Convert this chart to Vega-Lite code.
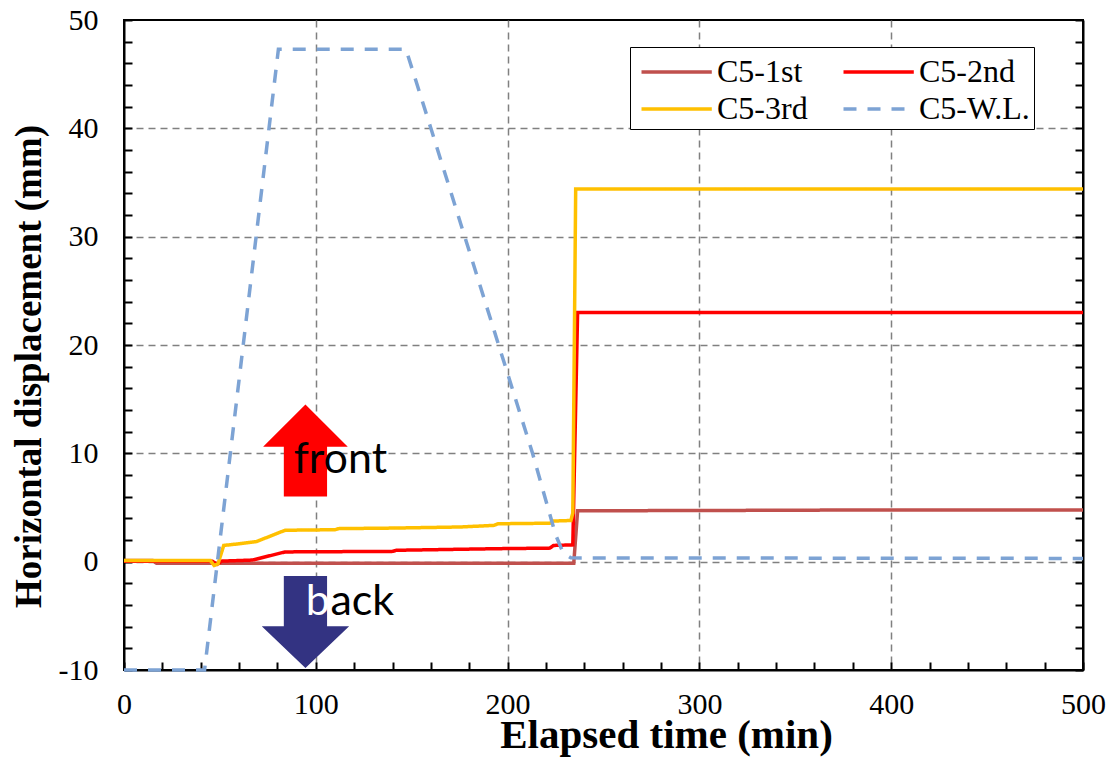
{
  "$schema": "https://vega.github.io/schema/vega-lite/v6.json",
  "width": 959,
  "height": 650,
  "autosize": {"type": "none"},
  "padding": {"left": 124, "top": 20, "right": 25, "bottom": 90},
  "background": "white",
  "config": {
    "view": {"stroke": "black", "strokeWidth": 2},
    "font": "Liberation Serif"
  },
  "datasets": {
    "lines": [
      {"t": 0, "v": 0.1, "series": "C5-1st"},
      {"t": 15, "v": 0.1, "series": "C5-1st"},
      {"t": 17, "v": -0.15, "series": "C5-1st"},
      {"t": 234.5, "v": -0.15, "series": "C5-1st"},
      {"t": 236.5, "v": 4.7, "series": "C5-1st"},
      {"t": 300, "v": 4.72, "series": "C5-1st"},
      {"t": 400, "v": 4.78, "series": "C5-1st"},
      {"t": 500, "v": 4.78, "series": "C5-1st"},

      {"t": 0, "v": 0.05, "series": "C5-2nd"},
      {"t": 46, "v": 0.05, "series": "C5-2nd"},
      {"t": 48.5, "v": -0.25, "series": "C5-2nd"},
      {"t": 51, "v": 0.05, "series": "C5-2nd"},
      {"t": 67, "v": 0.15, "series": "C5-2nd"},
      {"t": 84, "v": 0.9, "series": "C5-2nd"},
      {"t": 140, "v": 0.95, "series": "C5-2nd"},
      {"t": 142, "v": 1.05, "series": "C5-2nd"},
      {"t": 195, "v": 1.2, "series": "C5-2nd"},
      {"t": 222, "v": 1.25, "series": "C5-2nd"},
      {"t": 224, "v": 1.5, "series": "C5-2nd"},
      {"t": 234, "v": 1.55, "series": "C5-2nd"},
      {"t": 236.5, "v": 23.0, "series": "C5-2nd"},
      {"t": 500, "v": 23.0, "series": "C5-2nd"},

      {"t": 0, "v": 0.1, "series": "C5-3rd"},
      {"t": 45, "v": 0.1, "series": "C5-3rd"},
      {"t": 47, "v": -0.35, "series": "C5-3rd"},
      {"t": 49, "v": -0.2, "series": "C5-3rd"},
      {"t": 52, "v": 1.5, "series": "C5-3rd"},
      {"t": 60, "v": 1.65, "series": "C5-3rd"},
      {"t": 69, "v": 1.85, "series": "C5-3rd"},
      {"t": 84, "v": 2.9, "series": "C5-3rd"},
      {"t": 110, "v": 2.95, "series": "C5-3rd"},
      {"t": 112, "v": 3.05, "series": "C5-3rd"},
      {"t": 140, "v": 3.1, "series": "C5-3rd"},
      {"t": 175, "v": 3.2, "series": "C5-3rd"},
      {"t": 193, "v": 3.35, "series": "C5-3rd"},
      {"t": 195, "v": 3.5, "series": "C5-3rd"},
      {"t": 222, "v": 3.55, "series": "C5-3rd"},
      {"t": 224, "v": 3.75, "series": "C5-3rd"},
      {"t": 233, "v": 3.8, "series": "C5-3rd"},
      {"t": 234, "v": 4.5, "series": "C5-3rd"},
      {"t": 235.5, "v": 34.4, "series": "C5-3rd"},
      {"t": 500, "v": 34.4, "series": "C5-3rd"},

      {"t": 0, "v": -10, "series": "C5-W.L."},
      {"t": 42, "v": -10, "series": "C5-W.L."},
      {"t": 80.5, "v": 47.3, "series": "C5-W.L."},
      {"t": 147, "v": 47.3, "series": "C5-W.L."},
      {"t": 160, "v": 40, "series": "C5-W.L."},
      {"t": 213, "v": 10, "series": "C5-W.L."},
      {"t": 225, "v": 2.5, "series": "C5-W.L."},
      {"t": 229, "v": 0.8, "series": "C5-W.L."},
      {"t": 233, "v": 0.35, "series": "C5-W.L."},
      {"t": 500, "v": 0.3, "series": "C5-W.L."}
    ],
    "upArrow": [{"t": 94.6, "v": 10.26}],
    "downArrow": [{"t": 94.6, "v": -5.57}],
    "frontText": [{"t": 88.5, "v": 8.19, "label": "front"}],
    "ackText": [{"t": 107.6, "v": -4.92, "label": "ack"}],
    "bText": [{"t": 94.8, "v": -4.92, "label": "b"}]
  },
  "resolve": {"axis": {"y": "independent"}},
  "encoding": {
    "x": {
      "field": "t", "type": "quantitative", "title": "Elapsed time (min)",
      "scale": {"domain": [0, 500], "nice": false, "zero": false},
      "axis": {
        "orient": "bottom",
        "values": [0,20,40,60,80,100,120,140,160,180,200,220,240,260,280,300,320,340,360,380,400,420,440,460,480,500],
        "labelExpr": "datum.value % 100 == 0 ? '' + datum.value : ''",
        "labelOverlap": false, "labelFlush": false, "labelBound": false,
        "labelFont": "Liberation Serif", "labelFontSize": 30, "labelColor": "black",
        "labelPadding": 27,
        "grid": true, "gridColor": "#808080", "gridDash": [7, 5], "gridWidth": 1.5,
        "gridOpacity": {"condition": {"test": "datum.value % 100 == 0 && datum.value > 0 && datum.value < 500", "value": 1}, "value": 0},
        "tickSize": -8, "tickColor": "black", "tickWidth": 2,
        "domainColor": "black", "domainWidth": 2,
        "titleFont": "Liberation Serif", "titleFontSize": 41, "titleFontWeight": "bold", "titleColor": "black",
        "titleX": 542, "titleY": 77, "titleBaseline": "alphabetic", "titleAlign": "center", "titleAnchor": "start"
      }
    }
  },
  "layer": [
    {
      "data": {"name": "lines"},
      "mark": {"type": "line", "strokeWidth": 3.5, "strokeCap": "butt"},
      "encoding": {
        "y": {
          "field": "v", "type": "quantitative", "title": "Horizontal displacement (mm)",
          "scale": {"domain": [-10, 50], "nice": false, "zero": false},
          "axis": {
            "orient": "left",
            "values": [-10,-8,-6,-4,-2,0,2,4,6,8,10,12,14,16,18,20,22,24,26,28,30,32,34,36,38,40,42,44,46,48,50],
            "labelExpr": "datum.value % 10 == 0 ? '' + datum.value : ''",
            "labelOverlap": false, "labelFlush": false, "labelBound": false,
            "labelFont": "Liberation Serif", "labelFontSize": 30, "labelColor": "black",
            "labelPadding": 34,
            "grid": true, "gridColor": "#808080", "gridDash": [7, 5], "gridWidth": 1.5,
            "gridOpacity": {"condition": {"test": "datum.value % 10 == 0 && datum.value > -10 && datum.value < 50", "value": 1}, "value": 0},
            "tickSize": -8, "tickColor": "black", "tickWidth": 2,
            "domainColor": "black", "domainWidth": 2,
            "titleFont": "Liberation Serif", "titleFontSize": 37, "titleFontWeight": "bold", "titleColor": "black",
            "titleX": -84, "titleY": 346, "titleBaseline": "alphabetic", "titleAlign": "center", "titleAngle": -90, "titleAnchor": "start"
          }
        },
        "color": {
          "field": "series", "type": "nominal",
          "scale": {"domain": ["C5-1st", "C5-3rd", "C5-2nd", "C5-W.L."], "range": ["#C0504D", "#FFC000", "#FF0000", "#7DA3D4"]},
          "legend": {
            "orient": "none", "legendX": 506, "legendY": 27,
            "columns": 2, "gridAlign": "each", "title": null,
            "strokeColor": "black", "fillColor": "white", "padding": 4,
            "symbolType": "M-0.5,0H3.2", "symbolSize": 1444, "symbolStrokeWidth": 3.5, "symbolOffset": -4,
            "labelFont": "Liberation Serif", "labelFontSize": 32, "labelColor": "black",
            "labelOffset": 45, "columnPadding": 28, "rowPadding": 0, "labelLimit": 300
          }
        },
        "strokeDash": {
          "field": "series", "type": "nominal",
          "scale": {"domain": ["C5-1st", "C5-3rd", "C5-2nd", "C5-W.L."], "range": [[1, 0], [1, 0], [1, 0], [13, 11]]},
          "legend": {
            "orient": "none", "legendX": 506, "legendY": 27,
            "columns": 2, "gridAlign": "each", "title": null,
            "strokeColor": "black", "fillColor": "white", "padding": 4,
            "symbolType": "M-0.5,0H3.2", "symbolSize": 1444, "symbolStrokeWidth": 3.5, "symbolOffset": -4,
            "labelFont": "Liberation Serif", "labelFontSize": 32, "labelColor": "black",
            "labelOffset": 45, "columnPadding": 28, "rowPadding": 0, "labelLimit": 300
          }
        }
      }
    },
    {
      "data": {"name": "upArrow"},
      "mark": {"type": "point", "filled": true, "opacity": 1, "strokeWidth": 0, "color": "#FF0000", "size": 8464,
               "shape": "M0,-1L0.92,-0.08L0.47,-0.08L0.47,1L-0.47,1L-0.47,-0.08L-0.92,-0.08Z"},
      "encoding": {
        "y": {
          "field": "v", "type": "quantitative", "title": null,
          "scale": {"domain": [-10, 50], "nice": false, "zero": false},
          "axis": {
            "orient": "right",
            "values": [-10,-8,-6,-4,-2,0,2,4,6,8,10,12,14,16,18,20,22,24,26,28,30,32,34,36,38,40,42,44,46,48,50],
            "labels": false, "grid": false, "title": null,
            "tickSize": -8, "tickColor": "black", "tickWidth": 2,
            "domainColor": "black", "domainWidth": 2
          }
        }
      }
    },
    {
      "data": {"name": "downArrow"},
      "mark": {"type": "point", "filled": true, "opacity": 1, "strokeWidth": 0, "color": "#333382", "size": 8464,
               "shape": "M0,1L0.95,0.09L0.47,0.09L0.47,-1L-0.47,-1L-0.47,0.09L-0.95,0.09Z"},
      "encoding": {
        "y": {"field": "v", "type": "quantitative", "title": null, "scale": {"domain": [-10, 50], "nice": false, "zero": false}, "axis": null}
      }
    },
    {
      "data": {"name": "frontText"},
      "mark": {"type": "text", "align": "left", "baseline": "alphabetic", "font": "Lato", "fontSize": 43, "color": "black"},
      "encoding": {
        "y": {"field": "v", "type": "quantitative", "title": null, "scale": {"domain": [-10, 50], "nice": false, "zero": false}, "axis": null},
        "text": {"field": "label"}
      }
    },
    {
      "data": {"name": "ackText"},
      "mark": {"type": "text", "align": "left", "baseline": "alphabetic", "font": "Lato", "fontSize": 43, "color": "black"},
      "encoding": {
        "y": {"field": "v", "type": "quantitative", "title": null, "scale": {"domain": [-10, 50], "nice": false, "zero": false}, "axis": null},
        "text": {"field": "label"}
      }
    },
    {
      "data": {"name": "bText"},
      "mark": {"type": "text", "align": "left", "baseline": "alphabetic", "font": "Lato", "fontSize": 43, "color": "white"},
      "encoding": {
        "y": {"field": "v", "type": "quantitative", "title": null, "scale": {"domain": [-10, 50], "nice": false, "zero": false}, "axis": null},
        "text": {"field": "label"}
      }
    }
  ]
}
